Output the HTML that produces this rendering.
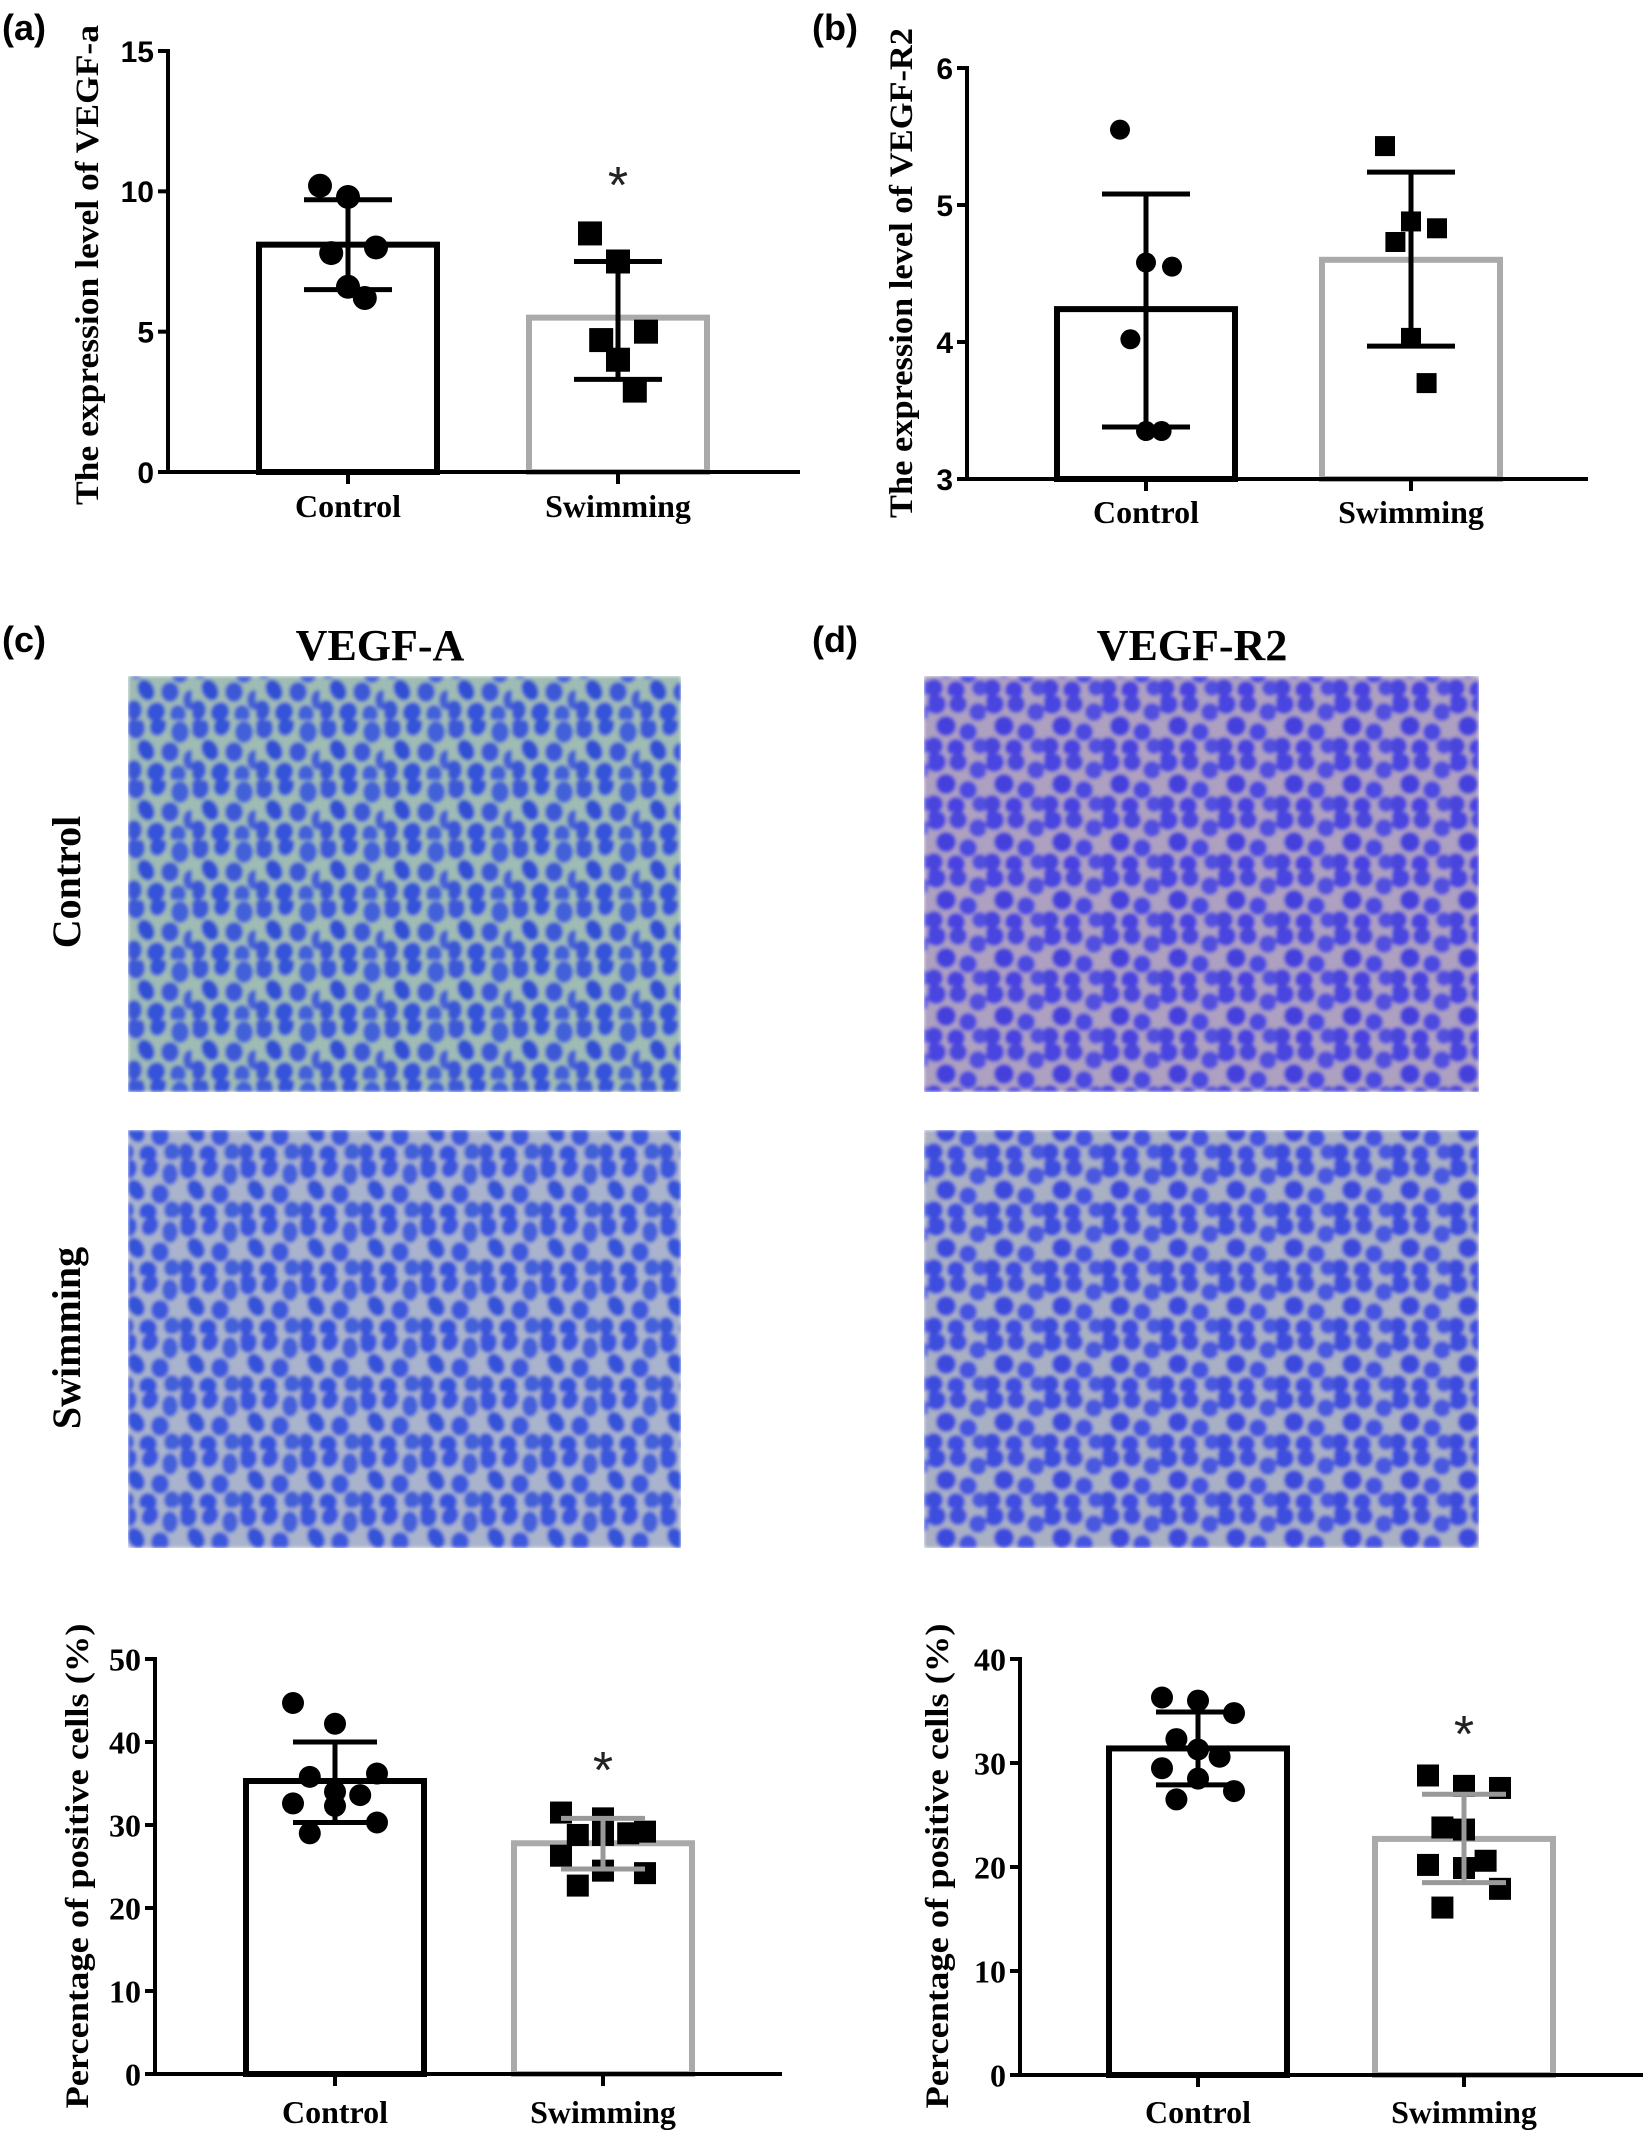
<!DOCTYPE html>
<html><head><meta charset="utf-8"><style>
html,body{margin:0;padding:0;background:#fff}
svg{display:block}
</style></head><body>
<svg id="fig" xmlns="http://www.w3.org/2000/svg" width="1650" height="2135" viewBox="0 0 1650 2135">
<defs>
<filter id="soft" x="0" y="0" width="1" height="1"><feGaussianBlur stdDeviation="1.8"/></filter>
<pattern id="cellsA" width="64" height="60" patternUnits="userSpaceOnUse">
<rect width="64" height="60" fill="#9fbcb4"/>
<ellipse cx="8" cy="8" rx="9" ry="11" fill="#3c58d6"/><ellipse cx="30" cy="6" rx="8" ry="10" fill="#3552d8" transform="rotate(20 30 6)"/>
<ellipse cx="52" cy="12" rx="9" ry="11" fill="#4260d8"/><ellipse cx="18" cy="30" rx="8" ry="11" fill="#3350d4" transform="rotate(-25 18 30)"/>
<ellipse cx="42" cy="32" rx="9" ry="10" fill="#3c58d6"/><ellipse cx="62" cy="40" rx="7" ry="10" fill="#4561d6"/>
<ellipse cx="6" cy="50" rx="8" ry="10" fill="#3a56d4"/><ellipse cx="28" cy="52" rx="9" ry="10" fill="#3552d8" transform="rotate(30 28 52)"/>
<ellipse cx="50" cy="54" rx="8" ry="9" fill="#4260d8"/>
</pattern>
<pattern id="cellsA2" width="60" height="58" patternUnits="userSpaceOnUse">
<rect width="60" height="58" fill="#a9b4cc"/>
<ellipse cx="8" cy="8" rx="9" ry="11" fill="#3a56dc"/><ellipse cx="30" cy="8" rx="8" ry="10" fill="#3b55dd" transform="rotate(30 30 8)"/>
<ellipse cx="50" cy="14" rx="8" ry="11" fill="#4461da"/><ellipse cx="16" cy="30" rx="8" ry="11" fill="#3653d8" transform="rotate(-30 16 30)"/>
<ellipse cx="40" cy="34" rx="9" ry="10" fill="#3c58dc"/><ellipse cx="6" cy="50" rx="8" ry="9" fill="#3a56d8"/>
<ellipse cx="28" cy="52" rx="9" ry="9" fill="#3552dc"/><ellipse cx="52" cy="50" rx="8" ry="9" fill="#4260d8"/>
</pattern>
<pattern id="cellsR" width="58" height="58" patternUnits="userSpaceOnUse">
<rect width="58" height="58" fill="#ada0c0"/>
<circle cx="8" cy="8" r="10" fill="#4a44e0"/><circle cx="30" cy="8" r="9" fill="#4b46dc"/>
<circle cx="50" cy="16" r="9" fill="#5250de"/><circle cx="18" cy="30" r="10" fill="#4540dc"/>
<circle cx="40" cy="36" r="9" fill="#4c48e0"/><circle cx="6" cy="50" r="9" fill="#4a44dc"/>
<circle cx="28" cy="52" r="9" fill="#4842e0"/><circle cx="52" cy="50" r="8" fill="#5250de"/>
</pattern>
<pattern id="cellsR2" width="58" height="58" patternUnits="userSpaceOnUse">
<rect width="58" height="58" fill="#a9b0c4"/>
<circle cx="8" cy="8" r="10" fill="#3c4ede"/><circle cx="30" cy="8" r="9" fill="#4250dc"/>
<circle cx="50" cy="16" r="9" fill="#4a58de"/><circle cx="18" cy="30" r="10" fill="#3c4adc"/>
<circle cx="40" cy="36" r="9" fill="#4452e0"/><circle cx="6" cy="50" r="9" fill="#3e4cdc"/>
<circle cx="28" cy="52" r="9" fill="#404ee0"/><circle cx="52" cy="50" r="8" fill="#4a58de"/>
</pattern>
</defs>

<g font-family="Liberation Sans, sans-serif" font-weight="bold" font-size="36" fill="#000">
<text x="2" y="40">(a)</text>
<text x="812" y="40">(b)</text>
<text x="2" y="652">(c)</text>
<text x="812" y="652">(d)</text>
</g>
<g font-family="Liberation Serif, serif" font-weight="bold" font-size="44" text-anchor="middle">
<text x="380" y="660">VEGF-A</text>
<text x="1192" y="660">VEGF-R2</text>
<text transform="translate(80,882) rotate(-90)" font-size="40">Control</text>
<text transform="translate(80,1338) rotate(-90)" font-size="40">Swimming</text>
</g>
<rect x="128" y="676" width="553" height="416" fill="url(#cellsA)" filter="url(#soft)"/>
<rect x="128" y="1130" width="553" height="418" fill="url(#cellsA2)" filter="url(#soft)"/>
<rect x="924" y="676" width="555" height="416" fill="url(#cellsR)" filter="url(#soft)"/>
<rect x="924" y="1130" width="555" height="418" fill="url(#cellsR2)" filter="url(#soft)"/>
</svg>
<script>
// Panel (a)
const aCategories = ["Control", "Swimming"];
const aMeans = [8.1, 5.5];
const aErrHigh = [9.7, 7.5];
const aErrLow = [6.5, 3.3];
const aControlPoints = [10.2, 9.8, 8.0, 7.8, 6.6, 6.2];
const aSwimPoints = [8.5, 7.5, 5.0, 4.7, 4.0, 2.9];
const aTicks = [0, 5, 10, 15];
// Panel (b)
const bCategories = ["Control", "Swimming"];
const bMeans = [4.24, 4.6];
const bErrHigh = [5.08, 5.24];
const bErrLow = [3.38, 3.97];
const bControlPoints = [5.55, 4.58, 4.55, 4.02, 3.35, 3.35];
const bSwimPoints = [5.43, 4.88, 4.83, 4.73, 4.03, 3.70];
const bTicks = [3, 4, 5, 6];
// Panel (c)
const cCategories = ["Control", "Swimming"];
const cMeans = [35.3, 27.8];
const cErrHigh = [40.0, 30.8];
const cErrLow = [30.3, 24.7];
const cControlPoints = [44.7, 42.2, 36.2, 35.8, 34.0, 33.6, 32.6, 32.3, 30.3, 29.0];
const cSwimPoints = [31.5, 30.8, 29.2, 28.8, 28.8, 29.0, 26.3, 24.5, 24.2, 22.7];
const cTicks = [0, 10, 20, 30, 40, 50];
// Panel (d)
const dCategories = ["Control", "Swimming"];
const dMeans = [31.4, 22.7];
const dErrHigh = [34.9, 27.0];
const dErrLow = [27.9, 18.5];
const dControlPoints = [36.3, 36.0, 34.8, 32.3, 31.3, 30.6, 29.5, 28.5, 27.3, 26.5];
const dSwimPoints = [28.8, 27.8, 27.6, 23.8, 23.6, 20.6, 20.2, 19.9, 17.9, 16.1];
const dTicks = [0, 10, 20, 30, 40];

const NS = "http://www.w3.org/2000/svg";
const svg = document.getElementById("fig");
function mk(tag, attrs, parent) {
  const e = document.createElementNS(NS, tag);
  for (const k in attrs) e.setAttribute(k, attrs[k]);
  (parent || svg).appendChild(e);
  return e;
}

function draw(p, cats, means, hi, lo, ptsC, ptsS, ticks) {
  const g = mk("g", {});
  
  
  const yMin = ticks[0], yMax = ticks[ticks.length - 1];
  const y = v => p.y0 + (v - yMin) / (yMax - yMin) * (p.yTop - p.y0);
  const centers = [p.xC, p.xS];
  for (let i = 0; i < 2; i++) {
    const b = mk("rect", {x: centers[i] - p.bw / 2, y: y(means[i]), width: p.bw, height: p.y0 - y(means[i]),
      fill: "#fff", stroke: i === 0 ? "#000" : "#aaa", "stroke-width": 6}, g);
    
    
  }
  const ya = mk("line", {x1: p.xAxis, y1: p.yTop - 2, x2: p.xAxis, y2: p.y0, stroke: "#000", "stroke-width": 4}, g);
  
  
  const xa = mk("line", {x1: p.xAxis - 2, y1: p.y0, x2: p.xEnd, y2: p.y0, stroke: "#000", "stroke-width": 4}, g);
  
  
  ticks.forEach(t => {
    mk("line", {x1: p.xAxis - 10, y1: y(t), x2: p.xAxis, y2: y(t), stroke: "#000", "stroke-width": 4}, g);
    const tl = mk("text", {x: p.xAxis - 14, y: y(t) + p.tfs * 0.36, "text-anchor": "end", "font-family": p.tfont,
      "font-weight": "bold", "font-size": p.tfs}, g);
    tl.textContent = String(t);
    
    
  });
  for (let i = 0; i < 2; i++) {
    mk("line", {x1: centers[i], y1: p.y0, x2: centers[i], y2: p.y0 + 12, stroke: "#000", "stroke-width": 4}, g);
    const cl = mk("text", {x: centers[i], y: p.labelY, "text-anchor": "middle", "font-family": "Liberation Serif, serif",
      "font-weight": "bold", "font-size": 32}, g);
    cl.textContent = cats[i];
    
    
  }
  const at = mk("text", {transform: `translate(${p.titleX},${p.titleY}) rotate(-90)`, "text-anchor": "middle",
    "font-family": "Liberation Serif, serif", "font-weight": "bold", "font-size": 33, textLength: p.titleLen,
    lengthAdjust: "spacingAndGlyphs"}, g);
  at.textContent = p.title;
  
  
  const sets = [ptsC, ptsS];
  for (let i = 0; i < 2; i++) {
    sets[i].forEach((v, j) => {
      const off = ((j % 3) - 1) * p.jit * (j % 2 === 0 ? 1 : 0.6);
      const cx = centers[i] + off, cy = y(v);
      let m;
      if (i === 0) m = mk("circle", {cx: cx, cy: cy, r: p.r, fill: "#000"}, g);
      else m = mk("rect", {x: cx - p.r, y: cy - p.r, width: 2 * p.r, height: 2 * p.r, fill: "#000"}, g);
      
      
    });
  }
  for (let i = 0; i < 2; i++) {
    const col = (i === 1 && p.grayErr) ? "#999" : "#000";
    const eg = mk("g", {stroke: col, "stroke-width": 5}, g);
    
    
    mk("line", {x1: centers[i], y1: y(hi[i]), x2: centers[i], y2: y(lo[i])}, eg);
    mk("line", {x1: centers[i] - p.cap, y1: y(hi[i]), x2: centers[i] + p.cap, y2: y(hi[i])}, eg);
    mk("line", {x1: centers[i] - p.cap, y1: y(lo[i]), x2: centers[i] + p.cap, y2: y(lo[i])}, eg);
  }
  if (p.star) {
    const s = mk("text", {x: p.xS, y: p.starY, "text-anchor": "middle", "font-family": "Liberation Sans, sans-serif",
      "font-size": 52, fill: "#222"}, g);
    s.textContent = "*";
    
    
  }
}

draw({name: "chart-a", xAxis: 168, xEnd: 800, y0: 472, yTop: 51, xC: 348, xS: 618, bw: 178, r: 12, jit: 28, cap: 44,
  tfont: "Liberation Sans, sans-serif", tfs: 30, labelY: 517, titleX: 98, titleY: 265, titleLen: 480,
  title: "The expression level of VEGF-a", star: true, starY: 203, grayErr: false},
  aCategories, aMeans, aErrHigh, aErrLow, aControlPoints, aSwimPoints, aTicks);

draw({name: "chart-b", xAxis: 967, xEnd: 1588, y0: 479, yTop: 68, xC: 1146, xS: 1411, bw: 178, r: 10, jit: 26, cap: 44,
  tfont: "Liberation Sans, sans-serif", tfs: 30, labelY: 523, titleX: 912, titleY: 273, titleLen: 490,
  title: "The expression level of VEGF-R2", star: false, grayErr: false},
  bCategories, bMeans, bErrHigh, bErrLow, bControlPoints, bSwimPoints, bTicks);

draw({name: "chart-c", xAxis: 155, xEnd: 782, y0: 2074, yTop: 1659, xC: 335, xS: 603, bw: 178, r: 11, jit: 42, cap: 42,
  tfont: "Liberation Serif, serif", tfs: 32, labelY: 2123, titleX: 88, titleY: 1866, titleLen: 485,
  title: "Percentage of positive cells (%)", star: true, starY: 1788, grayErr: true},
  cCategories, cMeans, cErrHigh, cErrLow, cControlPoints, cSwimPoints, cTicks);

draw({name: "chart-d", xAxis: 1020, xEnd: 1643, y0: 2075, yTop: 1659, xC: 1198, xS: 1464, bw: 178, r: 11, jit: 36, cap: 42,
  tfont: "Liberation Serif, serif", tfs: 32, labelY: 2123, titleX: 948, titleY: 1866, titleLen: 485,
  title: "Percentage of positive cells (%)", star: true, starY: 1752, grayErr: true},
  dCategories, dMeans, dErrHigh, dErrLow, dControlPoints, dSwimPoints, dTicks);
</script>
</body></html>
